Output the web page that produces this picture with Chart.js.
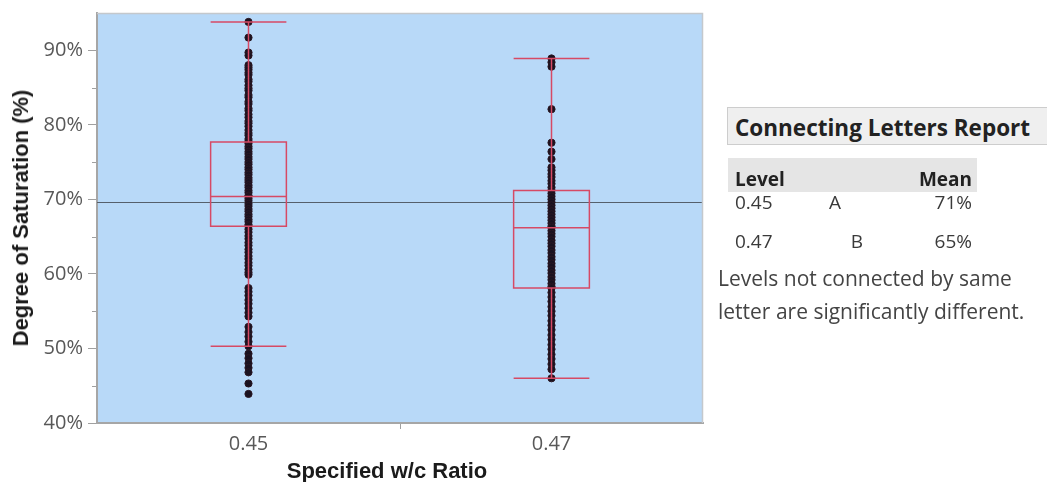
<!DOCTYPE html>
<html>
<head>
<meta charset="utf-8">
<script src="https://cdn.jsdelivr.net/npm/chart.js@4.4.1/dist/chart.umd.min.js"></script>
<style>
  html, body { margin: 0; padding: 0; background: #fff; width: 1047px; height: 482px; overflow: hidden; }
  #plotWrap { position: absolute; left: 0; top: 0; width: 720px; height: 482px; }
  .axisTitle { position: absolute; font: bold 22px "Liberation Sans", Arial, sans-serif; color: #1b1b1b; white-space: nowrap; line-height: 1; }
  #yTitle { left: 21px; top: 218px; transform: translate(-50%, -50%) rotate(-90deg); }
  #xTitle { left: 387px; top: 460px; transform: translateX(-50%); }
  .rp { position: absolute; font-family: "Open Sans", sans-serif; white-space: nowrap; }
  #rTitle { left: 727px; top: 107px; width: 340px; height: 38px; background: #efefef; border: 1px solid #cdcdcd;
            font-weight: bold; font-size: 22.5px; color: #222; line-height: 40px; padding-left: 7px; box-sizing: border-box; }
  #rHead { left: 728px; top: 158px; width: 249px; height: 34px; background: #e5e5e5; }
  .cell { height: 30px; line-height: 30px; font-size: 19px; color: #3a3a3a; }
  .hcell { font-weight: bold; color: #222; }
  .note { font-size: 21px; color: #444; height: 30px; line-height: 30px; left: 718px; }
</style>
</head>
<body>
<div id="plotWrap"><canvas id="chart"></canvas></div>
<div class="axisTitle" id="yTitle">Degree of Saturation (%)</div>
<div class="axisTitle" id="xTitle">Specified w/c Ratio</div>
<div id="report"></div>

<script>
// Specified w/c ratio groups
const categories = ['0.45', '0.47'];

// Degree of saturation (%) measurements, w/c = 0.45
const sat045 = [
  93.8, 91.7, 89.7, 89.3, 88.0, 87.7, 87.4, 87.0, 86.7, 86.1, 85.8, 85.3, 84.9, 84.6,
  84.0, 83.7, 83.1, 82.8, 82.2, 81.9, 81.4, 81.0, 80.5, 80.2, 79.8, 79.3, 78.9, 78.6,
  78.1, 77.8, 77.5, 77.1, 76.8, 76.4, 76.1, 75.7, 75.4, 75.0, 74.7, 74.3, 74.0, 73.6,
  73.3, 72.9, 72.6, 72.3, 71.9, 71.6, 71.2, 70.9, 70.5, 70.4, 70.1, 69.8, 69.4, 69.1,
  68.7, 68.4, 68.0, 67.7, 67.3, 67.0, 66.6, 66.4, 66.0, 65.6, 65.1, 64.7, 64.2, 63.8,
  63.3, 62.9, 62.4, 62.0, 61.5, 61.1, 60.6, 60.2, 59.9,
  58.1, 57.6, 57.1, 56.5, 56.0, 55.4, 54.8, 54.3,
  52.9, 52.2, 51.6, 50.9, 50.3,
  49.3, 48.7, 48.0, 47.4, 46.8, 45.3, 43.9
];

// Degree of saturation (%) measurements, w/c = 0.47
const sat047 = [
  88.9, 88.4, 87.8, 82.1, 77.6, 76.4, 75.4,
  74.3, 73.9, 73.4, 73.0, 72.5, 72.1, 71.6, 71.2, 70.8, 70.4, 70.0, 69.6, 69.2, 68.8,
  68.4, 68.0, 67.6, 67.2, 66.8, 66.4, 66.2, 65.8, 65.4, 65.0, 64.5, 64.1, 63.7, 63.2,
  62.8, 62.3, 61.9, 61.4, 61.0, 60.5, 60.1, 59.6, 59.2, 58.7, 58.3, 58.1,
  57.5, 56.9, 56.3, 55.6, 55.0, 54.4, 53.7, 53.1, 52.5, 51.8, 51.2, 50.5, 49.9,
  49.2, 48.6, 47.9, 47.2, 46.0
];

// Quantile box summary per group
const q1 = [66.4, 58.1];
const medians = [70.4, 66.2];
const q3 = [77.7, 71.2];
const whiskerLow = [50.3, 46.0];
const whiskerHigh = [93.8, 88.9];
const grandMean = 69.7;

// Y axis range and tick labels
const yMin = 40, yMax = 95;
const yMajorTicks = [40, 50, 60, 70, 80, 90];
const yMinorTicks = [45, 55, 65, 75, 85];

// Connecting letters report
const levels = ['0.45', '0.47'];
const letters = ['A', 'B'];
const groupMeans = [71, 65];

const COLORS = {
  plotBg: '#b8d9f8',
  box: '#d64a65',
  dot: '#1a1220',
  meanLine: '#55606c',
  axis: '#a6a6a6',
  frame: '#c4c8cc',
  tickText: '#585858'
};

Chart.defaults.font.family = "'Open Sans', sans-serif";

const boxPlotPlugin = {
  id: 'boxPlot',
  beforeDraw(chart) {
    const { ctx, chartArea: a } = chart;
    ctx.save();
    ctx.fillStyle = COLORS.plotBg;
    ctx.fillRect(a.left, a.top, a.right - a.left, a.bottom - a.top);
    ctx.restore();
  },
  beforeDatasetsDraw(chart) {
    const { ctx, chartArea: a, scales: { y } } = chart;
    const py = Math.round(y.getPixelForValue(grandMean)) + 0.5;
    ctx.save();
    ctx.strokeStyle = COLORS.meanLine;
    ctx.lineWidth = 1.2;
    ctx.beginPath();
    ctx.moveTo(a.left, py);
    ctx.lineTo(a.right, py);
    ctx.stroke();
    ctx.restore();
  },
  afterDatasetsDraw(chart) {
    const { ctx, scales: { x, y } } = chart;
    const catWidth = x.getPixelForValue(1) - x.getPixelForValue(0);
    const half = catWidth * 0.125;
    ctx.save();
    ctx.strokeStyle = COLORS.box;
    ctx.lineWidth = 1.5;
    categories.forEach((c, i) => {
      const cx = x.getPixelForValue(i);
      const yq1 = y.getPixelForValue(q1[i]);
      const yq3 = y.getPixelForValue(q3[i]);
      const ymed = y.getPixelForValue(medians[i]);
      const ylo = y.getPixelForValue(whiskerLow[i]);
      const yhi = y.getPixelForValue(whiskerHigh[i]);
      ctx.beginPath();
      // box
      ctx.rect(cx - half, yq3, half * 2, yq1 - yq3);
      // median
      ctx.moveTo(cx - half, ymed); ctx.lineTo(cx + half, ymed);
      // whiskers
      ctx.moveTo(cx, yq3); ctx.lineTo(cx, yhi);
      ctx.moveTo(cx, yq1); ctx.lineTo(cx, ylo);
      // caps
      ctx.moveTo(cx - half, yhi); ctx.lineTo(cx + half, yhi);
      ctx.moveTo(cx - half, ylo); ctx.lineTo(cx + half, ylo);
      ctx.stroke();
    });
    ctx.restore();
  },
  afterDraw(chart) {
    const { ctx, chartArea: a, scales: { y } } = chart;
    ctx.save();
    // frame on top and right
    ctx.strokeStyle = COLORS.frame;
    ctx.lineWidth = 1.5;
    ctx.beginPath();
    ctx.moveTo(a.left, a.top + 0.5);
    ctx.lineTo(a.right - 0.5, a.top + 0.5);
    ctx.lineTo(a.right - 0.5, a.bottom);
    ctx.stroke();
    // minor ticks on the y axis
    ctx.strokeStyle = '#a0a0a0';
    ctx.lineWidth = 1;
    yMinorTicks.forEach(v => {
      const py = Math.round(y.getPixelForValue(v)) + 0.5;
      ctx.beginPath();
      ctx.moveTo(a.left - 5, py);
      ctx.lineTo(a.left - 1, py);
      ctx.stroke();
    });
    ctx.restore();
  }
};

const pointsFor = (label, values) => values.map(v => ({ x: label, y: v }));

new Chart(document.getElementById('chart'), {
  type: 'line',
  data: {
    labels: categories,
    datasets: [
      { data: pointsFor(categories[0], sat045) },
      { data: pointsFor(categories[1], sat047) }
    ].map(d => Object.assign(d, {
      showLine: false,
      pointRadius: 3.6,
      pointBorderWidth: 1,
      pointBackgroundColor: COLORS.dot,
      pointBorderColor: '#2b1823'
    }))
  },
  options: {
    responsive: true,
    maintainAspectRatio: false,
    animation: false,
    layout: { padding: { top: 13, right: 17, left: 0, bottom: 0 } },
    plugins: { legend: { display: false }, tooltip: { enabled: false } },
    scales: {
      x: {
        type: 'category',
        offset: true,
        grid: {
          offset: true,
          drawOnChartArea: false,
          tickLength: 6,
          // only the divider between the two groups carries a tick mark
          tickColor: ctx => (ctx.index === 1 ? '#a0a0a0' : 'rgba(0,0,0,0)')
        },
        border: { color: COLORS.axis, width: 2 },
        ticks: { color: COLORS.tickText, font: { size: 20 }, padding: 3, maxRotation: 0 },
        afterFit(s) { s.height = 59; }
      },
      y: {
        min: yMin,
        max: yMax,
        afterBuildTicks(s) { s.ticks = yMajorTicks.map(v => ({ value: v })); },
        grid: { drawOnChartArea: false, tickLength: 9, tickColor: '#a0a0a0' },
        border: { color: COLORS.axis, width: 2 },
        ticks: { color: COLORS.tickText, font: { size: 20 }, padding: 5, callback: v => v + '%' },
        afterFit(s) { s.width = 97; s.paddingTop = 0; }
      }
    }
  },
  plugins: [boxPlotPlugin]
});

// Connecting letters report panel
(function buildReport() {
  const root = document.getElementById('report');
  const add = (cls, text, style) => {
    const el = document.createElement('div');
    el.className = 'rp ' + cls;
    el.textContent = text;
    Object.assign(el.style, style);
    root.appendChild(el);
    return el;
  };
  const title = add('', 'Connecting Letters Report', {});
  title.id = 'rTitle';
  const head = add('', '', {});
  head.id = 'rHead';
  add('cell hcell', 'Level', { left: '735px', top: '164px' });
  add('cell hcell', 'Mean', { left: '877px', top: '164px', width: '95px', textAlign: 'right' });
  const rowTops = [187, 226];
  const letterCenters = [835, 857];
  levels.forEach((lv, i) => {
    add('cell', lv, { left: '735px', top: rowTops[i] + 'px' });
    add('cell', letters[i], { left: (letterCenters[i] - 20) + 'px', width: '40px', textAlign: 'center', top: rowTops[i] + 'px' });
    add('cell', groupMeans[i] + '%', { left: '877px', width: '95px', textAlign: 'right', top: rowTops[i] + 'px' });
  });
  add('note', 'Levels not connected by same', { top: '263px' });
  add('note', 'letter are significantly different.', { top: '296px' });
})();
</script>
</body>
</html>
